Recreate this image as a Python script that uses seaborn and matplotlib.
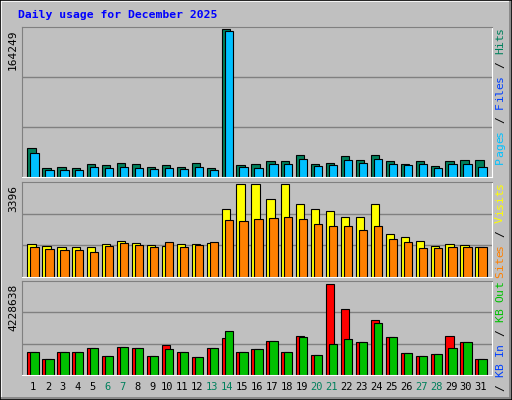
import matplotlib
matplotlib.use("Agg")
import matplotlib.pyplot as plt
import seaborn as sns
import numpy as np
from matplotlib.lines import Line2D

days = list(range(1, 32))
weekend = [6, 7, 13, 14, 20, 21, 27, 28]
hits = [32190,9990,11100,9990,14430,13320,15540,14430,11100,13320,11100,15540,9990,164249,13320,14430,
        17760,17760,24420,14430,15540,23310,18870,24420,17760,14430,17760,12210,17760,18870,18870]
pages = [26640,7770,7770,7770,11100,9990,11100,9990,8880,9990,8880,11100,7770,162060,11100,9990,
         14430,14430,19980,12210,13320,18870,15540,19980,14430,13320,14430,9990,14430,14430,11100]
visits = [1205,1132,1095,1095,1095,1205,1314,1241,1168,1132,1205,1205,1241,2482,3396,3390,
          2847,3380,2665,2482,2409,2190,2190,2665,1570,1460,1314,1132,1205,1168,1095]
sites = [1095,1022,986,986,913,1132,1241,1168,1095,1278,1095,1168,1278,2081,2044,2117,
         2154,2190,2117,1935,1862,1862,1716,1862,1387,1278,1059,1059,1095,1095,1095]
kbf = [1068764,743488,1068764,1068764,1254636,882892,1301104,1254636,882892,1394040,1068764,836424,
       1254636,1719316,1068764,1208168,1579912,1068764,1812252,929360,4228638,3066888,1533444,2555740,
       1765784,1022296,882892,975828,1812252,1533444,743488]
kbout = [1068764,743488,1068764,1068764,1254636,882892,1301104,1254636,882892,1208168,1068764,836424,
         1254636,2044592,1068764,1208168,1579912,1068764,1765784,929360,1440508,1672848,1533444,2416336,
         1765784,1022296,882892,975828,1254636,1533444,743488]

BG = "#C0C0C0"
MONO = "DejaVu Sans Mono"
fig = plt.figure(figsize=(5.12, 4.0), dpi=100, facecolor=BG)

def px2fy(y):
    return 1 - y / 400.0

panels = [(27, 177), (182, 277), (281, 375)]
axes = []
for top, bot in panels:
    ax = fig.add_axes([22/512, px2fy(bot), 470/512, (bot-top)/400])
    ax.set_facecolor(BG)
    axes.append(ax)

def draw(ax, back, front, cback, cfront, vmax, hfrac):
    xb = [d - 0.1 for d in days]
    xf = [d + 0.1 for d in days]
    sns.barplot(x=xb, y=back, native_scale=True, width=0.55, color=cback, saturation=1,
                edgecolor="black", linewidth=0.8, errorbar=None, ax=ax)
    sns.barplot(x=xf, y=front, native_scale=True, width=0.55, color=cfront, saturation=1,
                edgecolor="black", linewidth=0.8, errorbar=None, ax=ax)
    top = vmax / hfrac
    ax.set_ylim(0, top)
    ax.set_xlim(0.26, 31.74)
    for g in (top/3, 2*top/3):
        ax.axhline(g, color="#808080", lw=1, zorder=0)
    ax.set_yticks([]); ax.set_ylabel(""); ax.set_xlabel("")
    for s in ("top", "left"):
        ax.spines[s].set_color("#808080")
    for s in ("bottom", "right"):
        ax.spines[s].set_color("white")

draw(axes[0], hits, pages, "#00805c", "#00c0ff", 164249, 148/150)
draw(axes[1], visits, sites, "#ffff00", "#ff8000", 3396, 93/95)
draw(axes[2], kbf, kbout, "#ff0000", "#00c000", 4228638, 91/94)

for ax in axes[:2]:
    ax.set_xticks([])
axes[2].set_xticks(days)
axes[2].set_xticklabels([str(d) for d in days], fontsize=7.5, family=MONO)
axes[2].tick_params(axis="x", length=0, pad=5)
for lab, d in zip(axes[2].get_xticklabels(), days):
    lab.set_color("#00805c" if d in weekend else "black")

fig.text(18/512, px2fy(15), "Daily usage for December 2025", color="#0000ff",
         fontsize=8.2, family=MONO, fontweight="bold", va="center", ha="left")

maxlabels = [("164249", 27), ("3396", 182), ("4228638", 281)]
for txt, top in maxlabels:
    fig.text(13/512, px2fy(top + 3), txt, rotation=90, fontsize=8, family=MONO,
             va="top", ha="center")

cw = 6.85
def side_label(pieces, top):
    n = sum(len(t) for t, _ in pieces)
    i = 0
    for t, c in pieces:
        for ch in t:
            if ch != " ":
                yc = top + (n - i - 0.5) * cw
                fig.text(500/512, px2fy(yc), ch, rotation=90, fontsize=8.2, family=MONO,
                         color=c, va="center", ha="center")
            i += 1

G = "black"
side_label([("Pages", "#00c0ff"), (" / ", G), ("Files", "#0040ff"), (" / ", G), ("Hits", "#00805c")], 27)
side_label([("Sites", "#ff8000"), (" / ", G), ("Visits", "#ffff00")], 182)
side_label([("KB F", "#ff0000"), (" / ", G), ("KB In", "#0040ff"), (" / ", G), ("KB Out", "#00c000")], 281)

W, H = 512, 400
def fl(x0, y0, x1, y1, c):
    fig.add_artist(Line2D([x0/W, x1/W], [px2fy(y0), px2fy(y1)], color=c, lw=1.2,
                          transform=fig.transFigure))
fl(1, 1, 510, 1, "white"); fl(1, 1, 1, 398, "white")
fl(1, 398, 510, 398, "#808080"); fl(510, 1, 510, 398, "#808080")
fl(0, 0.3, 512, 0.3, "black"); fl(0.3, 0, 0.3, 400, "black")
fl(0, 399.7, 512, 399.7, "black"); fl(511.7, 0, 511.7, 400, "black")

fig.savefig("out.png", dpi=100, facecolor=BG)
